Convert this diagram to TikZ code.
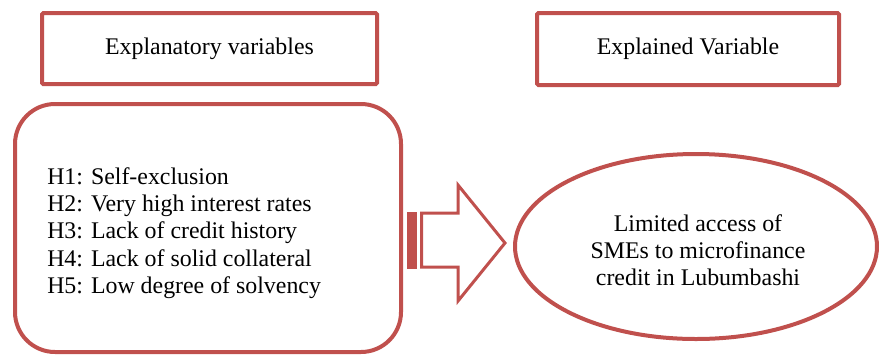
\documentclass[tikz,border=0pt]{standalone}
\usepackage{fontspec}
\setmainfont{Liberation Serif}
\usetikzlibrary{shapes.geometric}
\definecolor{accent}{HTML}{C0504D}
\begin{document}
\begin{tikzpicture}[x=0.75pt,y=-0.75pt,
  frame/.style={draw=accent, line width=3pt, inner sep=0pt},
  txt/.style={font=\fontsize{17.9}{20.4}\selectfont, text=black}]
\useasboundingbox (0,0) rectangle (879,355);
\node[frame, txt, rounded corners=1pt, minimum width=251.25pt, minimum height=53.25pt] (expl) at (209.5,48.5) {Explanatory variables};
\node[frame, txt, rounded corners=1pt, minimum width=226.5pt, minimum height=54pt] (explained) at (688,49) {Explained Variable};
\node[frame, rounded corners=30pt, minimum width=289.5pt, minimum height=186pt] (hyp) at (208,228) {};
\node[txt, align=left, anchor=west, inner sep=0pt] (hlist) at (47,233) {H1: Self-exclusion\\H2: Very high interest rates\\H3: Lack of credit history\\H4: Lack of solid collateral\\H5: Low degree of solvency};
\node[frame, ellipse, minimum width=271.5pt, minimum height=138.75pt] (res) at (696,246.5) {};
\node[txt, align=center, inner sep=0pt] (restext) at (698,250) {Limited access of\\SMEs to microfinance\\credit in Lubumbashi};
% striped block arrow
\fill[accent] (407,211.5) rectangle (417,268.5);
\draw[accent, line width=2.25pt, line join=miter] (421.5,213) -- (458,213) -- (458,185) -- (505,243) -- (458,301) -- (458,267) -- (421.5,267) -- cycle;
\end{tikzpicture}
\end{document}
